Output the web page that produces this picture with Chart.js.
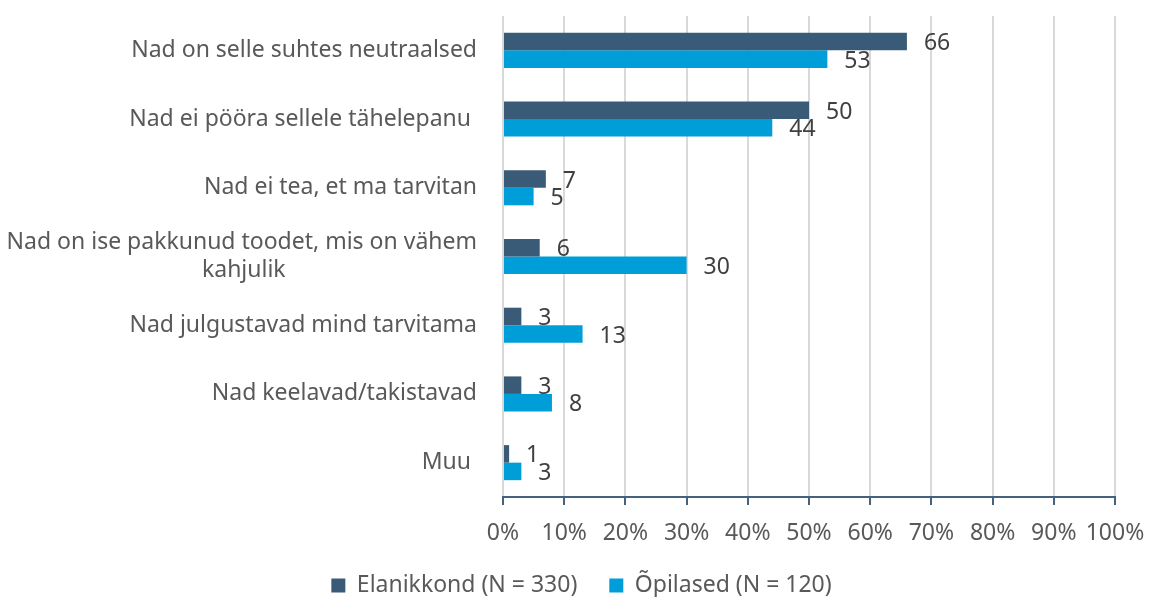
<!DOCTYPE html>
<html>
<head>
<meta charset="utf-8">
<script src="https://cdn.jsdelivr.net/npm/chart.js@4"></script>
<style>
    body { margin: 0; background: #fff; }
    #wrap { width: 1149px; height: 597px; }
</style>
</head>
<body>
<div id="wrap"><canvas id="barChart" width="1149" height="597"></canvas></div>
<script>
// Data
const categories = [
    'Nad on selle suhtes neutraalsed',
    'Nad ei pööra sellele tähelepanu ',
    'Nad ei tea, et ma tarvitan',
    ['Nad on ise pakkunud toodet, mis on vähem', 'kahjulik'],
    'Nad julgustavad mind tarvitama',
    'Nad keelavad/takistavad',
    'Muu '
];
const elanikkond = [66, 50, 7, 6, 3, 3, 1];
const opilased = [53, 44, 5, 30, 13, 8, 3];
const seriesNames = ['Elanikkond (N = 330)', 'Õpilased (N = 120)'];

const fontFamily = '"Noto Sans", sans-serif';
const fontSize = 23;
const darkBlue = '#3a5b78';
const lightBlue = '#009ed8';

// center the second line of the wrapped label under the first one
function centerWrapped(lines) {
    let ctx = document.createElement('canvas').getContext('2d');
    ctx.font = fontSize + 'px ' + fontFamily;
    let w0 = ctx.measureText(lines[0]).width;
    let out = lines.slice(0, 1);
    for (let i = 1; i < lines.length; i++) {
        let pad = (w0 - ctx.measureText(lines[i]).width) / 2;
        let n = Math.round(pad / ctx.measureText(' ').width);
        out.push(lines[i] + ' '.repeat(Math.max(n, 0)));
    }
    return out;
}

// value labels next to each bar
const valueLabels = {
    id: 'valueLabels',
    afterDatasetsDraw(chart) {
        let ctx = chart.ctx;
        ctx.save();
        ctx.font = fontSize + 'px ' + fontFamily;
        ctx.fillStyle = '#404040';
        ctx.textAlign = 'left';
        ctx.textBaseline = 'middle';
        chart.data.datasets.forEach((ds, i) => {
            chart.getDatasetMeta(i).data.forEach((bar, j) => {
                ctx.fillText(ds.data[j], bar.x + 17, bar.y + 2);
            });
        });
        ctx.restore();
    }
};

// the legend sits a bit right of the canvas centre
const legendShift = {
    id: 'legendShift',
    afterLayout(chart) {
        chart.legend.left += 24;
        chart.legend.right += 24;
    }
};

document.addEventListener('DOMContentLoaded', () => {
    let labels = categories.map(c => Array.isArray(c) ? centerWrapped(c) : c);
    let ctx = document.getElementById('barChart').getContext('2d');

    let chart = new Chart(ctx, {
        type: 'bar',
        data: {
            labels: labels,
            datasets: [
                {
                    label: seriesNames[0],
                    data: elanikkond,
                    backgroundColor: darkBlue,
                    categoryPercentage: 0.51,
                    barPercentage: 1
                },
                {
                    label: seriesNames[1],
                    data: opilased,
                    backgroundColor: lightBlue,
                    categoryPercentage: 0.51,
                    barPercentage: 1
                }
            ]
        },
        options: {
            indexAxis: 'y',
            responsive: false,
            animation: false,
            layout: {
                padding: { top: 16, right: 34, left: 0, bottom: 0 }
            },
            plugins: {
                legend: {
                    position: 'bottom',
                    labels: {
                        boxWidth: 14,
                        boxHeight: 14,
                        padding: 32,
                        color: '#595959',
                        font: { family: fontFamily, size: fontSize }
                    }
                },
                tooltip: { enabled: false }
            },
            scales: {
                x: {
                    min: 0,
                    max: 100,
                    ticks: {
                        stepSize: 10,
                        padding: 15,
                        autoSkip: false,
                        maxRotation: 0,
                        minRotation: 0,
                        color: '#595959',
                        font: { family: fontFamily, size: fontSize },
                        callback: v => v + '%'
                    },
                    grid: {
                        color: '#d9d9d9',
                        lineWidth: 2,
                        tickLength: 8,
                        tickColor: '#44627f',
                        tickWidth: 2
                    },
                    border: { color: '#44627f', width: 2 },
                    afterFit: scale => {
                        scale.height = 45;
                        scale.paddingLeft = 0;
                        scale.paddingRight = 0;
                    }
                },
                y: {
                    ticks: {
                        padding: 0,
                        color: '#595959',
                        font: { family: fontFamily, size: fontSize, lineHeight: 1.2 }
                    },
                    // invisible tick marks just push the labels away from the bars
                    grid: {
                        drawOnChartArea: false,
                        drawTicks: true,
                        tickLength: 26,
                        color: 'rgba(0,0,0,0)',
                        tickColor: 'rgba(0,0,0,0)'
                    },
                    border: { display: false },
                    afterFit: scale => { scale.width = 503; }
                }
            }
        },
        plugins: [valueLabels, legendShift]
    });

    // legend items are spaced wide, but the box itself stays short
    let legend = chart.legend;
    let origFit = legend.fit.bind(legend);
    legend.fit = function () {
        origFit();
        this.height = 55;
    };
    chart.update();
});
</script>
</body>
</html>
